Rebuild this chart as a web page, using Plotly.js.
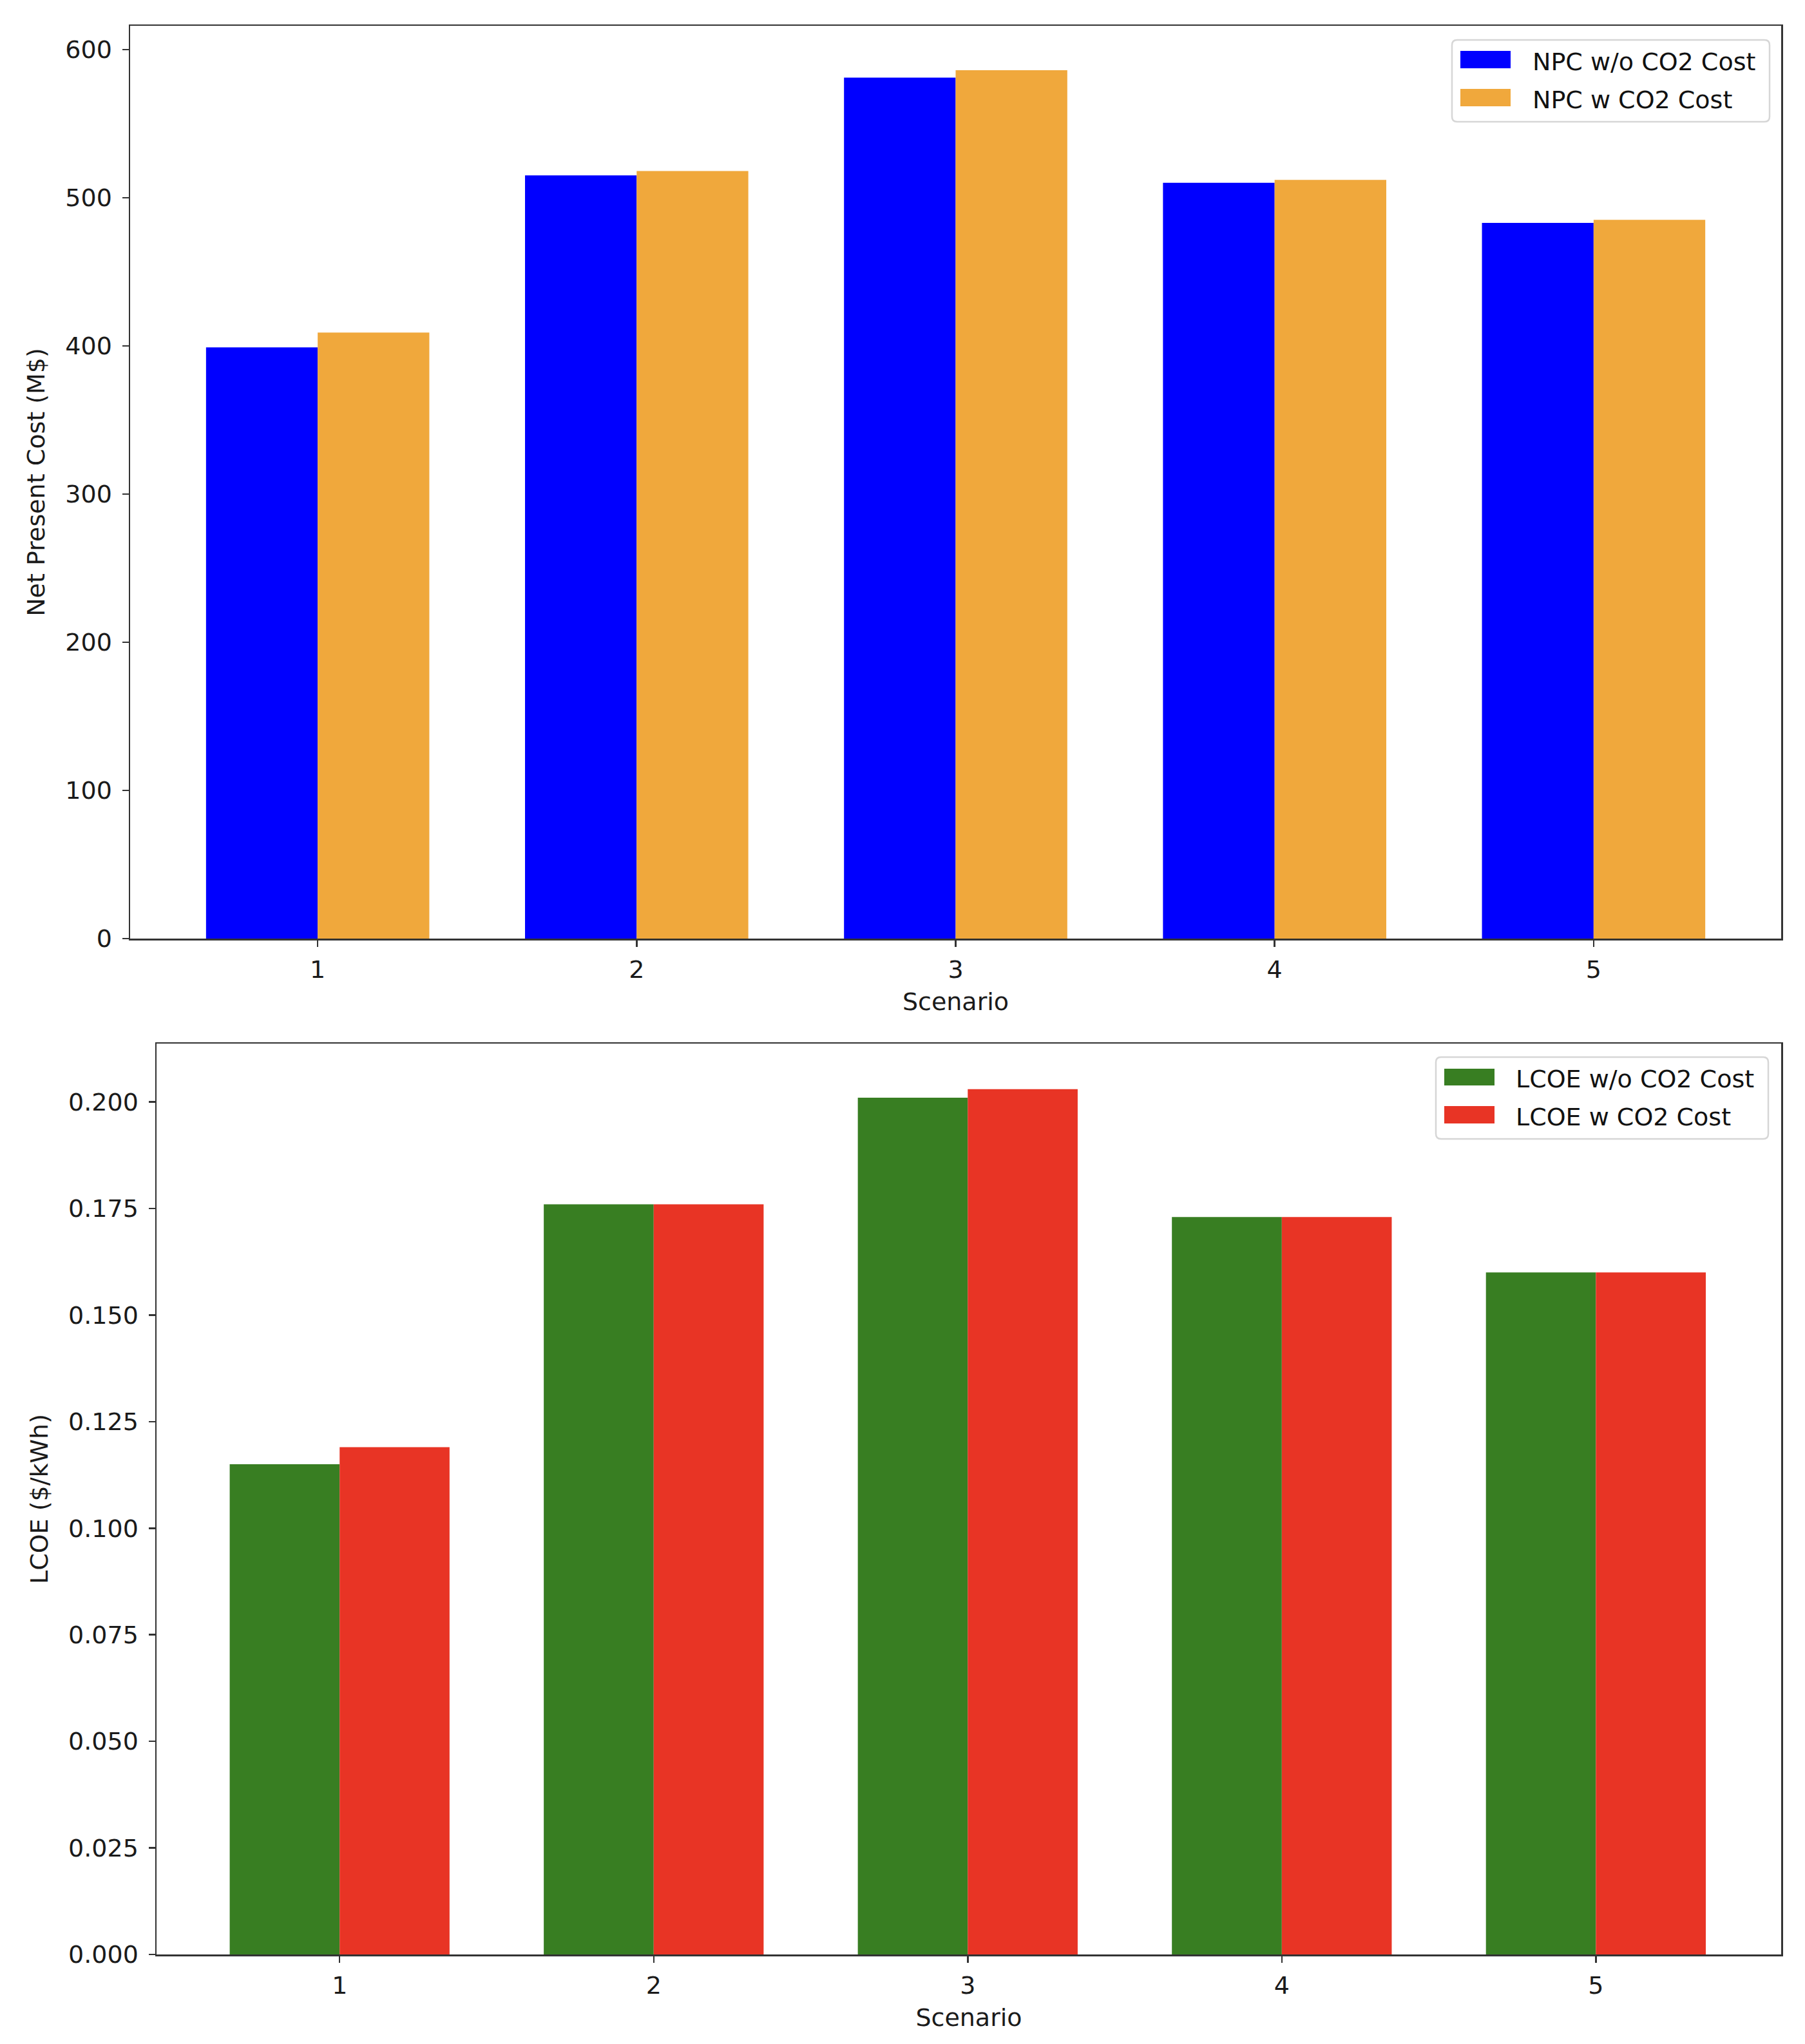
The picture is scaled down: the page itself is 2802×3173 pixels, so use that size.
<!DOCTYPE html>
<html><head><meta charset="utf-8">
<script src="https://cdn.plot.ly/plotly-3.0.1.min.js"></script>
<style>html,body{margin:0;padding:0;background:#fff}#chart{width:2802px;height:3173px}</style>
</head><body><div id="chart"></div>
<script>
const scenarios = [1, 2, 3, 4, 5];
const npcWithout = [399, 515, 581, 510, 483];
const npcWith = [409, 518, 586, 512, 485];
const lcoeWithout = [0.115, 0.176, 0.201, 0.173, 0.160];
const lcoeWith = [0.119, 0.176, 0.203, 0.173, 0.160];
const npcTicks = [0, 100, 200, 300, 400, 500, 600];
const lcoeTicks = [0, 0.025, 0.05, 0.075, 0.1, 0.125, 0.15, 0.175, 0.2];
const lcoeTickText = lcoeTicks.map(v => v.toFixed(3));
const seriesNames = ['NPC w/o CO2 Cost', 'NPC w CO2 Cost', 'LCOE w/o CO2 Cost', 'LCOE w CO2 Cost'];
const seriesColors = ['#0000ff', '#f0a83c', '#387e22', '#e83425'];

const W = 2802, H = 3173, ML = 202, MR = 37, MT = 40, MB = 139;
const PW = W - ML - MR, PH = H - MT - MB;
const px = x => (x - ML) / PW;
const py = y => (H - MB - y) / PH;

const FONT = 'DejaVu Sans';
const axisCommon = {
  showline: true, mirror: true, linecolor: '#333', linewidth: 2.5,
  ticks: 'outside', ticklen: 10, tickwidth: 2.5, tickcolor: '#333',
  showgrid: false, zeroline: false,
  tickfont: {family: FONT, size: 38, color: '#1a1a1a'}
};

const traces = [
  {type: 'bar', x: scenarios, y: npcWithout, name: seriesNames[0], width: 0.35, offset: -0.35,
   marker: {color: seriesColors[0], line: {width: 0}}, xaxis: 'x', yaxis: 'y', showlegend: false},
  {type: 'bar', x: scenarios, y: npcWith, name: seriesNames[1], width: 0.35, offset: 0,
   marker: {color: seriesColors[1], line: {width: 0}}, xaxis: 'x', yaxis: 'y', showlegend: false},
  {type: 'bar', x: scenarios, y: lcoeWithout, name: seriesNames[2], width: 0.35, offset: -0.35,
   marker: {color: seriesColors[2], line: {width: 0}}, xaxis: 'x2', yaxis: 'y2', showlegend: false},
  {type: 'bar', x: scenarios, y: lcoeWith, name: seriesNames[3], width: 0.35, offset: 0,
   marker: {color: seriesColors[3], line: {width: 0}}, xaxis: 'x2', yaxis: 'y2', showlegend: false}
];

function rrect(x0, y0, x1, y1, r) {
  const P = (x, y) => px(x) + ',' + py(y);
  return 'M' + P(x0 + r, y0) + ' L' + P(x1 - r, y0) + ' Q' + P(x1, y0) + ' ' + P(x1, y0 + r) +
    ' L' + P(x1, y1 - r) + ' Q' + P(x1, y1) + ' ' + P(x1 - r, y1) +
    ' L' + P(x0 + r, y1) + ' Q' + P(x0, y1) + ' ' + P(x0, y1 - r) +
    ' L' + P(x0, y0 + r) + ' Q' + P(x0, y0) + ' ' + P(x0 + r, y0) + ' Z';
}

const legends = [
  {box: [2254, 62, 2747, 189], patchX: [2267, 2345], rows: [[79, 106], [138, 165]], textX: 2377, items: [0, 1]},
  {box: [2229, 1641, 2745, 1768], patchX: [2242, 2320], rows: [[1659, 1685], [1717, 1744]], textX: 2351, items: [2, 3]}
];
const shapes = [], annotations = [];
legends.forEach(L => {
  shapes.push({type: 'path', xref: 'paper', yref: 'paper', path: rrect(L.box[0], L.box[1], L.box[2], L.box[3], 8),
    fillcolor: 'rgba(255,255,255,0.8)', line: {color: '#d6d6d6', width: 2.5}});
  L.rows.forEach((row, i) => {
    const k = L.items[i];
    shapes.push({type: 'rect', xref: 'paper', yref: 'paper', x0: px(L.patchX[0]), x1: px(L.patchX[1]),
      y0: py(row[1]), y1: py(row[0]), fillcolor: seriesColors[k], line: {width: 0}});
    annotations.push({xref: 'paper', yref: 'paper', x: px(L.textX), y: py((row[0] + row[1]) / 2 + 3),
      xanchor: 'left', yanchor: 'middle', showarrow: false, text: seriesNames[k],
      font: {family: FONT, size: 38, color: '#111'}});
  });
});

const layout = {
  width: W, height: H, margin: {l: ML, r: MR, t: MT, b: MB},
  paper_bgcolor: '#fff', plot_bgcolor: '#fff', showlegend: false, barmode: 'overlay',
  font: {family: FONT, size: 38, color: '#1a1a1a'},
  xaxis: Object.assign({}, axisCommon, {domain: [0, 1], range: [0.412, 5.588], tickvals: scenarios,
    ticktext: scenarios.map(String), anchor: 'y', ticklabelstandoff: 3,
    title: {text: 'Scenario', standoff: 16, font: {family: FONT, size: 38, color: '#1a1a1a'}}}),
  yaxis: Object.assign({}, axisCommon, {domain: [py(1457), 1], range: [0, 616], tickvals: npcTicks,
    ticktext: npcTicks.map(String), anchor: 'x', ticklabelstandoff: 8,
    title: {text: 'Net Present Cost (M$)', standoff: 20, font: {family: FONT, size: 38, color: '#1a1a1a'}}}),
  xaxis2: Object.assign({}, axisCommon, {domain: [px(243), 1], range: [0.417, 5.59], tickvals: scenarios,
    ticktext: scenarios.map(String), anchor: 'y2', ticklabelstandoff: 3,
    title: {text: 'Scenario', standoff: 16, font: {family: FONT, size: 38, color: '#1a1a1a'}}}),
  yaxis2: Object.assign({}, axisCommon, {domain: [0, py(1620)], range: [0, 0.2137], tickvals: lcoeTicks,
    ticktext: lcoeTickText, anchor: 'x2', ticklabelstandoff: 8,
    title: {text: 'LCOE ($/kWh)', standoff: 20, font: {family: FONT, size: 38, color: '#1a1a1a'}}}),
  shapes: shapes, annotations: annotations
};

Plotly.newPlot('chart', traces, layout, {staticPlot: true, displayModeBar: false});
</script></body></html>
